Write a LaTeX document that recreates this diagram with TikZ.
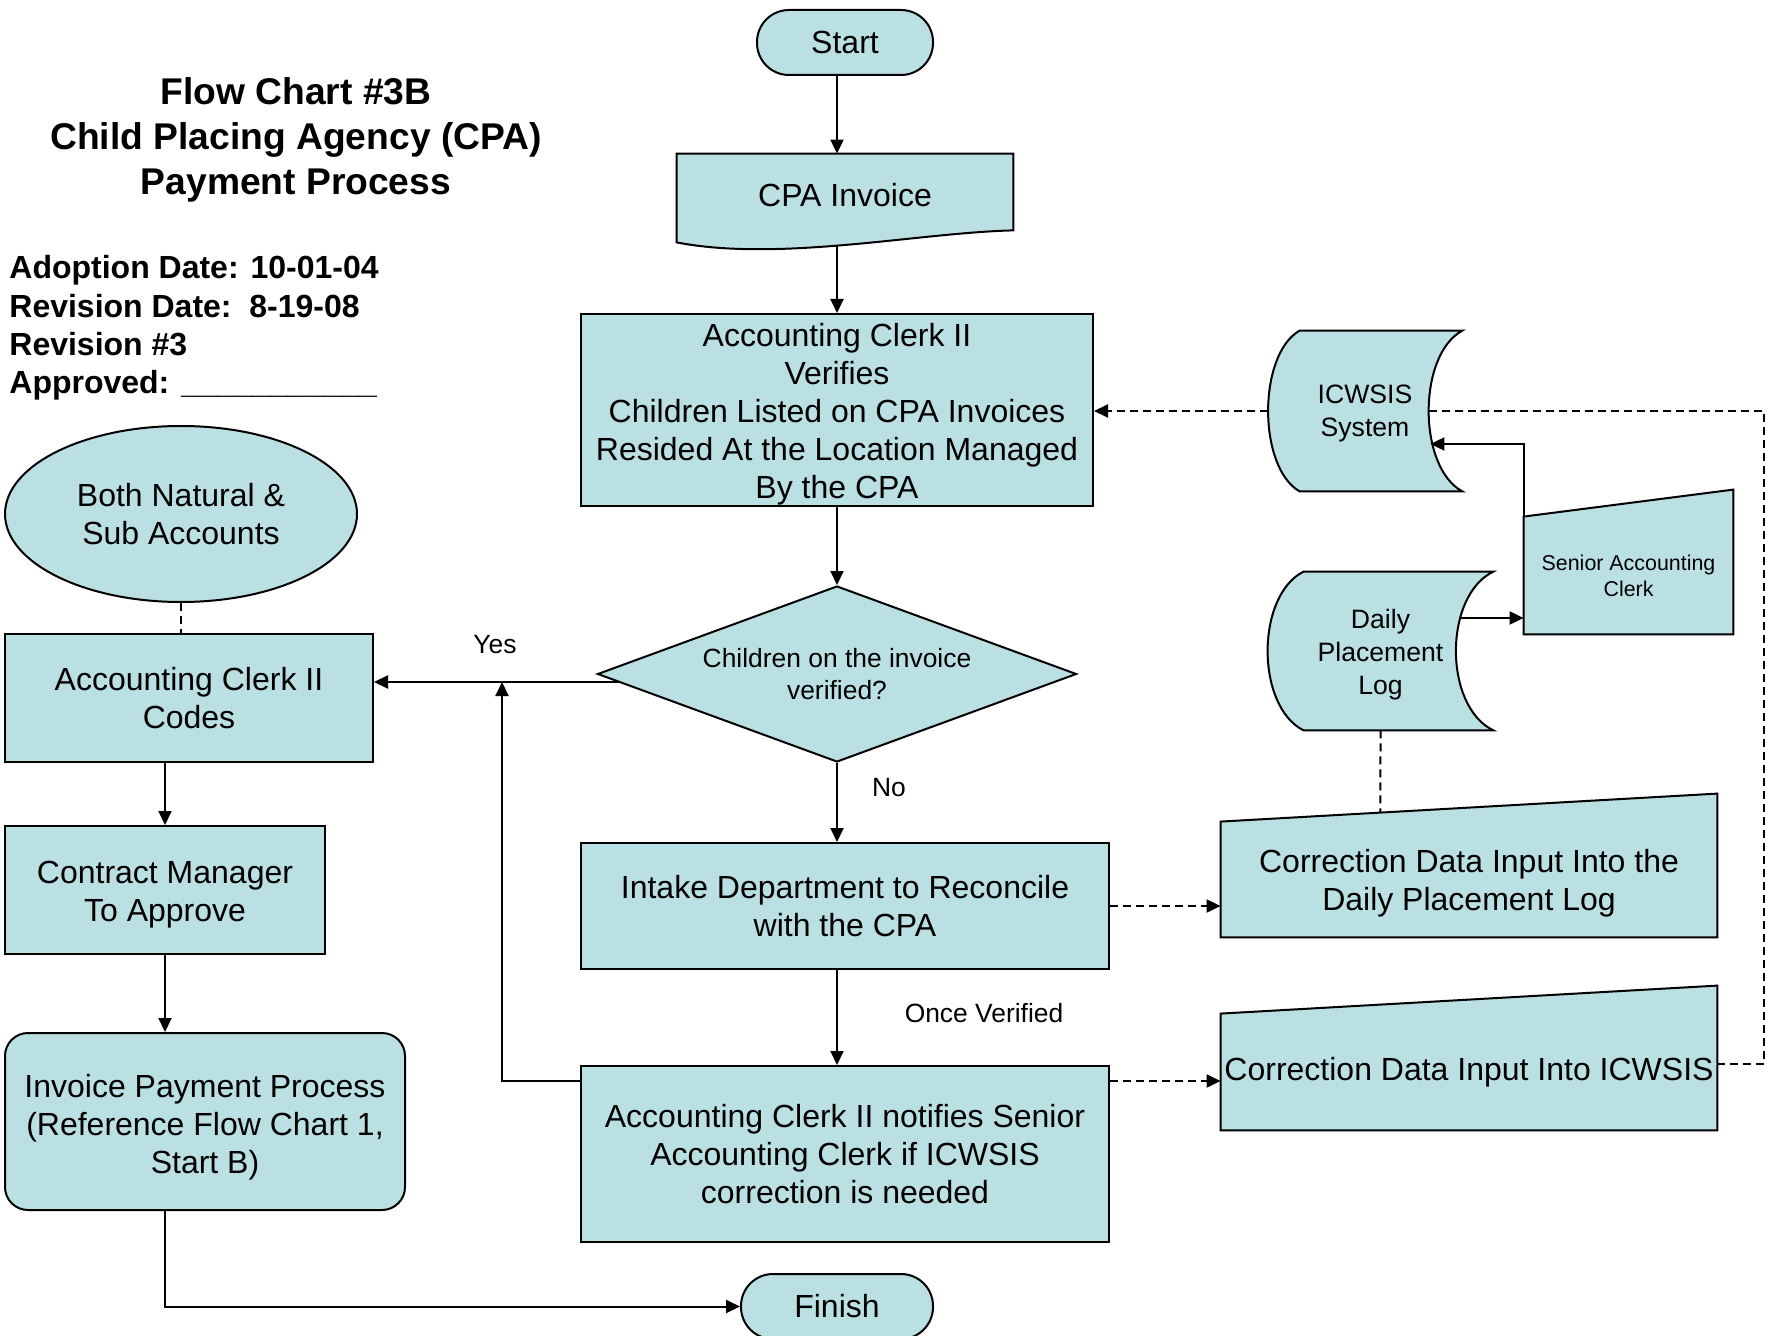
\documentclass[tikz,border=0pt]{standalone}
\usepackage{fontspec}
\setmainfont{Liberation Sans}
\usepackage{tikz}
\usetikzlibrary{calc,shapes.geometric,arrows.meta}
\pgfdeclarelayer{bg}
\pgfsetlayers{bg,main}
\definecolor{boxfill}{RGB}{187,224,227}
% strut that pushes the first line of a node down a little
\newcommand{\topgap}[1]{\rule{0pt}{#1}}

\begin{document}
\begin{tikzpicture}[x=0.5pt, y=-0.5pt,
    every node/.style={inner sep=0pt, align=center},
    txt/.style={font=\fontsize{16}{19}\selectfont},
    lbl/.style={font=\fontsize{13.2}{15.8}\selectfont},
    storetext/.style={font=\fontsize{13.3}{16.5}\selectfont},
    shapefill/.style={draw, fill=boxfill, line width=1pt},
    box/.style={txt, shapefill},
    term/.style={box, rounded corners=16pt},
    arr/.style={line width=1pt, -{Triangle[length=7pt,width=6.5pt]}},
    dashline/.style={line width=1pt, dash pattern=on 4pt off 2.5pt}]

    % Page size (pixels of the chart, y goes down)
    \useasboundingbox (0,0) rectangle (1771,1336);

    % Title and revision block
    \node[font=\bfseries\fontsize{18.6}{22.5}\selectfont] (title) at (296,139.5)
        {Flow Chart \#3B\\Child Placing Agency (CPA)\\Payment Process};
    \node[font=\bfseries\fontsize{16}{19.2}\selectfont, align=left, anchor=west] (meta) at (9,328)
        {Adoption Date: 10-01-04\\Revision Date:\ \ 8-19-08\\Revision \#3\\Approved: \_\_\_\_\_\_\_\_\_\_\_};

    % Main column
    \node[term, minimum width=88pt, minimum height=32.5pt] (start) at (845,42.5) {Start};
    \node[txt, minimum width=168pt, minimum height=41pt] (inv) at (845,195) {CPA Invoice};
    \node[box, minimum width=256pt, minimum height=96pt] (ver) at (837,410)
        {\topgap{16.2pt}Accounting Clerk II\\Verifies\\Children Listed on CPA Invoices\\Resided At the Location Managed\\By the CPA};
    \node[box, diamond, aspect=2.7, lbl, minimum width=239.5pt, minimum height=88pt] (dia) at (837,674)
        {Children on the invoice\\verified?};
    \node[box, minimum width=264pt, minimum height=63pt] (intake) at (845,906)
        {Intake Department to Reconcile\\with the CPA};
    \node[box, minimum width=264pt, minimum height=88pt] (notify) at (845,1154)
        {Accounting Clerk II notifies Senior\\Accounting Clerk if ICWSIS\\correction is needed};
    \node[term, minimum width=96pt, minimum height=32.5pt] (finish) at (837,1306.5) {Finish};

    % Left column
    \node[box, ellipse, minimum width=176pt, minimum height=88pt] (both) at (181,514)
        {Both Natural \&\\Sub Accounts};
    \node[box, minimum width=184pt, minimum height=64pt] (codes) at (189,698)
        {Accounting Clerk II\\Codes};
    \node[box, minimum width=160pt, minimum height=64pt] (cm) at (165,890)
        {\topgap{16pt}Contract Manager\\To Approve};
    \node[box, rounded corners=11.5pt, minimum width=200pt, minimum height=88.5pt] (pay) at (205,1121.5)
        {\topgap{17.1pt}Invoice Payment Process\\(Reference Flow Chart 1,\\Start B)};

    % Right side (outlines go on the bg layer)
    \node[storetext, minimum width=97pt, minimum height=80pt] (icws) at (1365,411) {\topgap{11.3pt}ICWSIS\\System};
    \node[storetext, minimum width=112.5pt, minimum height=79pt] (dpl) at (1380.5,651) {\topgap{13.1pt}Daily\\Placement\\Log};
    \node[font=\fontsize{10.7}{13}\selectfont, minimum width=104.5pt, minimum height=58.5pt] (sac) at (1628.5,575.5)
        {Senior Accounting\\Clerk};
    \node[txt, minimum width=248pt, minimum height=57.5pt] (cor1) at (1469,879.5)
        {\topgap{15.1pt}Correction Data Input Into the\\Daily Placement Log};
    \node[txt, minimum width=248pt, minimum height=58pt] (cor2) at (1469,1072)
        {Correction Data Input Into ICWSIS};

    \begin{pgfonlayer}{bg}
        \fill[white] (0,0) rectangle (1771,1336);
        % document shape
        \draw[shapefill] (inv.north west) -- (inv.north east) -- ($(inv.south east)+(0,-6)$)
            .. controls ($(inv.south east)+(-93,-4)$) and ($(inv.south west)+(103,26)$) .. ($(inv.south west)+(0,6)$) -- cycle;
        % stored data shapes
        \draw[shapefill] ($(icws.north west)+(32,0)$) -- (icws.north east)
            .. controls ($(icws.north east)+(-45,24)$) and ($(icws.south east)+(-45,-24)$) .. (icws.south east)
            -- ($(icws.south west)+(32,0)$)
            .. controls ($(icws.south west)+(-10,-24)$) and ($(icws.north west)+(-10,24)$) .. ($(icws.north west)+(32,0)$) -- cycle;
        \draw[shapefill] ($(dpl.north west)+(36,0)$) -- (dpl.north east)
            .. controls ($(dpl.north east)+(-50,24)$) and ($(dpl.south east)+(-50,-24)$) .. (dpl.south east)
            -- ($(dpl.south west)+(36,0)$)
            .. controls ($(dpl.south west)+(-12,-24)$) and ($(dpl.north west)+(-12,24)$) .. ($(dpl.north west)+(36,0)$) -- cycle;
        % manual input shapes
        \draw[shapefill] (sac.south west) -- (sac.north west) -- ($(sac.north east)+(0,-27)$) -- (sac.south east) -- cycle;
        \draw[shapefill] (cor1.south west) -- (cor1.north west) -- ($(cor1.north east)+(0,-28)$) -- (cor1.south east) -- cycle;
        \draw[shapefill] (cor2.south west) -- (cor2.north west) -- ($(cor2.north east)+(0,-28)$) -- (cor2.south east) -- cycle;
    \end{pgfonlayer}

    % Main flow
    \draw[arr] (start.south -| ver) -- (inv.north -| ver);
    \draw[arr] ($(inv.south -| ver)+(0,10)$) -- (ver.north);
    \draw[arr] (ver.south) -- (dia.north);
    \draw[arr] (dia.south) -- (intake.north -| dia.south);
    \draw[arr] (intake.south -| ver) -- (notify.north -| ver);

    % Yes branch and loop back
    \coordinate (yesp) at ($(dia.west)+(22,8)$);
    \coordinate (up) at ($(codes.east |- yesp)+(128,0)$);
    \draw[arr] (yesp) -- (codes.east |- yesp);
    \draw[arr] ($(notify.north west)+(0,16)$) -| (up);
    \node[lbl] (yes) at (495,645) {Yes};
    \node[lbl] (no) at (889,788) {No};
    \node[lbl] (once) at (984,1013) {Once Verified};

    % Left column
    \draw[dashline] (both.south) -- (codes.north -| both.south);
    \draw[arr] (codes.south -| cm) -- (cm.north);
    \draw[arr] (cm.south) -- (pay.north -| cm);
    \draw[arr] (pay.south -| cm) |- (finish.west);

    % Right side
    \draw[arr, dashline] (icws.west) -- (ver.east |- icws.west);
    \draw[arr, dashline] (intake.east) -- (cor1.west |- intake.east);
    \coordinate (n2) at ($(notify.north east)+(0,16)$);
    \draw[arr, dashline] (n2) -- (cor2.west |- n2);
    \coordinate (rt) at ($(icws.east)+(302,0)$);
    \draw[dashline] ($(cor2.east)+(0,-8)$) -| (rt) -- ($(icws.east)+(-34,0)$);
    \draw[arr] (sac.north west) |- ($(icws.east)+(-32,33)$);
    \coordinate (dp) at ($(dpl.east)+(-33,-33)$);
    \draw[arr] (dp) -- (sac.west |- dp);
    \coordinate (c1ne) at ($(cor1.north east)+(0,-28)$);
    \coordinate (dpb) at (dpl.south |- cor1.south);
    \draw[dashline] (dpl.south) -- (intersection of dpl.south--dpb and cor1.north west--c1ne);
\end{tikzpicture}
\end{document}
